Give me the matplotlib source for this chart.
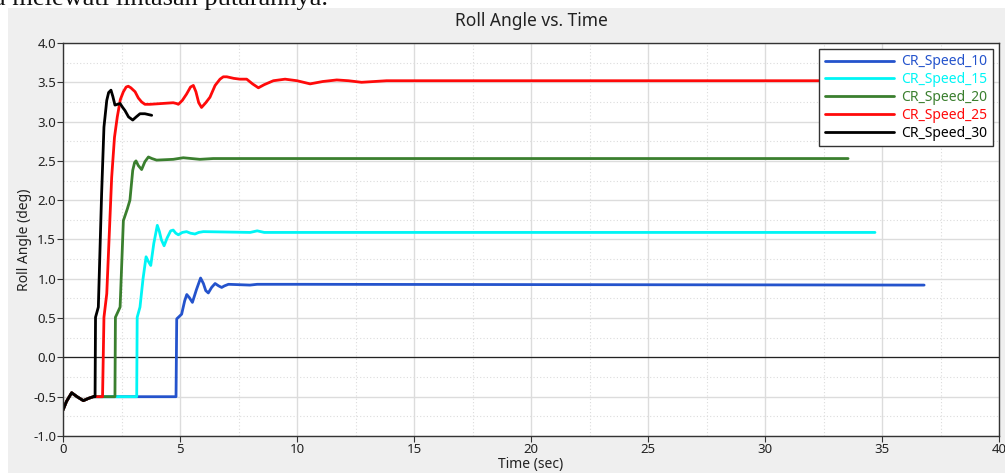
import matplotlib
matplotlib.use("Agg")
import matplotlib.pyplot as plt
from matplotlib.patches import Rectangle
from matplotlib.ticker import MultipleLocator, FormatStrFormatter

plt.rcParams['font.family'] = ['Noto Sans', 'DejaVu Sans']
plt.rcParams['axes.unicode_minus'] = False

# start of every run: small settling wiggle before the roll step
t_start = [0.0, 0.15, 0.37, 0.6, 0.87, 1.1, 1.3]
v_start = [-0.67, -0.56, -0.45, -0.5, -0.55, -0.52, -0.5]

t_10 = [4.83, 4.86, 5.07, 5.2, 5.29, 5.4, 5.53, 5.7, 5.88, 6.0, 6.1, 6.21,
        6.35, 6.5, 6.65, 6.78, 6.9, 7.07, 7.99, 8.3, 10.1, 36.8]
v_10 = [-0.5, 0.49, 0.55, 0.72, 0.80, 0.76, 0.70, 0.86, 1.01, 0.94, 0.85, 0.82,
        0.89, 0.94, 0.91, 0.89, 0.91, 0.93, 0.92, 0.93, 0.93, 0.92]

t_15 = [3.15, 3.17, 3.29, 3.42, 3.55, 3.65, 3.75, 3.88, 4.03, 4.12, 4.2, 4.32,
        4.45, 4.6, 4.71, 4.82, 4.93, 5.1, 5.28, 5.45, 5.64, 5.8, 6.0,
        8.0, 8.3, 8.6, 34.7]
v_15 = [-0.5, 0.51, 0.64, 1.0, 1.28, 1.22, 1.17, 1.45, 1.68, 1.60, 1.50, 1.42,
        1.52, 1.61, 1.62, 1.58, 1.56, 1.59, 1.60, 1.58, 1.57, 1.59, 1.60,
        1.59, 1.61, 1.59, 1.59]

t_20 = [2.22, 2.24, 2.44, 2.58, 2.75, 2.86, 2.98, 3.06, 3.12, 3.22, 3.36, 3.5,
        3.65, 3.8, 4.0, 4.71, 5.14, 5.85, 6.42, 33.55]
v_20 = [-0.5, 0.51, 0.64, 1.74, 1.89, 2.0, 2.38, 2.48, 2.50, 2.44, 2.39, 2.49,
        2.55, 2.53, 2.51, 2.52, 2.54, 2.52, 2.53, 2.53]

t_25 = [1.69, 1.75, 1.87, 2.08, 2.2, 2.32, 2.45, 2.58, 2.7, 2.79, 2.9, 3.08,
        3.22, 3.36, 3.5, 3.72, 4.71, 4.85, 4.93, 5.1, 5.28, 5.45, 5.57, 5.68,
        5.8, 5.92, 6.1, 6.28, 6.5, 6.71, 6.85, 7.0, 7.3, 7.56, 7.85, 8.1, 8.35,
        8.6, 8.99, 9.49, 10.0, 10.56, 11.1, 11.7, 12.2, 12.76, 13.3, 13.83,
        16.6, 33.0]
v_25 = [-0.5, 0.51, 0.81, 2.29, 2.8, 3.06, 3.28, 3.38, 3.44, 3.45, 3.43, 3.38,
        3.30, 3.25, 3.22, 3.22, 3.24, 3.23, 3.22, 3.27, 3.35, 3.44, 3.46, 3.38,
        3.24, 3.18, 3.24, 3.31, 3.46, 3.54, 3.57, 3.57, 3.55, 3.54, 3.54, 3.48,
        3.43, 3.47, 3.52, 3.54, 3.52, 3.48, 3.51, 3.53, 3.52, 3.50, 3.51, 3.52,
        3.52, 3.52]

t_30 = [1.37, 1.39, 1.51, 1.65, 1.75, 1.87, 1.95, 2.05, 2.13, 2.22, 2.33, 2.44,
        2.55, 2.65, 2.8, 2.98, 3.13, 3.29, 3.5, 3.79]
v_30 = [-0.5, 0.51, 0.64, 2.08, 2.93, 3.27, 3.37, 3.40, 3.32, 3.21, 3.22, 3.23,
        3.18, 3.14, 3.06, 3.02, 3.06, 3.10, 3.10, 3.08]

labels = ['CR_Speed_10', 'CR_Speed_15', 'CR_Speed_20', 'CR_Speed_25', 'CR_Speed_30']
colors = ['#2453cc', '#00f5f5', '#3a7f2e', '#ff0a0a', '#000000']
series = [(t_10, v_10), (t_15, v_15), (t_20, v_20), (t_25, v_25), (t_30, v_30)]

fig = plt.figure(figsize=(10.05, 4.73), dpi=100, facecolor='white')

# grey panel behind the plot, document text above it
fig.patches.append(Rectangle((8 / 1005, 0), 1 - 8 / 1005, 1 - 8 / 473,
                             transform=fig.transFigure, facecolor='#efefef',
                             edgecolor='none', zorder=-10))
fig.text(-0.006, 1 - 5 / 473, 'a melewati lintasan putarannya.',
         family='Liberation Serif', fontsize=19, color='#111111',
         va='baseline', ha='left')

ax = fig.add_axes([63 / 1005, 37 / 473, 936 / 1005, 393 / 473])
ax.set_facecolor('white')

for (t, v), c, lab in zip(series, colors, labels):
    ax.plot(t_start + t, v_start + v, color=c, lw=2.0, label=lab,
            solid_joinstyle='round', solid_capstyle='round')

ax.axhline(0, color='#222222', lw=0.9, zorder=1.5)

ax.set_xlim(0, 40)
ax.set_ylim(-1.0, 4.0)
ax.xaxis.set_major_locator(MultipleLocator(5))
ax.xaxis.set_minor_locator(MultipleLocator(2.5))
ax.yaxis.set_major_locator(MultipleLocator(0.5))
ax.yaxis.set_minor_locator(MultipleLocator(0.25))
ax.yaxis.set_major_formatter(FormatStrFormatter('%.1f'))
ax.grid(which='major', color='#dcdcdc', lw=1.0, ls='-')
ax.grid(which='minor', color='#dcdcdc', lw=0.8, ls=(0, (1, 2)))
ax.set_axisbelow(True)
ax.tick_params(which='major', direction='out', length=4, width=0.8,
               labelsize=9.5, colors='#333333', labelcolor='#222222', pad=1)
ax.tick_params(which='minor', length=0)
for s in ax.spines.values():
    s.set_color('#333333')
    s.set_linewidth(1.0)

ax.set_title('Roll Angle vs. Time', fontsize=12.5, color='#222222', pad=12)
ax.set_xlabel('Time (sec)', fontsize=10, color='#222222', labelpad=1)
ax.set_ylabel('Roll Angle (deg)', fontsize=10, color='#222222', labelpad=1)

leg = ax.legend(loc='upper right', bbox_to_anchor=(0.9935, 0.985),
                borderaxespad=0, fontsize=10, handlelength=5.0,
                handletextpad=0.5, labelspacing=0.2, borderpad=0.4,
                fancybox=False, framealpha=1.0, edgecolor='#333333')
leg.get_frame().set_linewidth(1.0)
for txt, c in zip(leg.get_texts(), colors):
    txt.set_color(c)

fig.savefig('out.png', dpi=100, facecolor='white')
